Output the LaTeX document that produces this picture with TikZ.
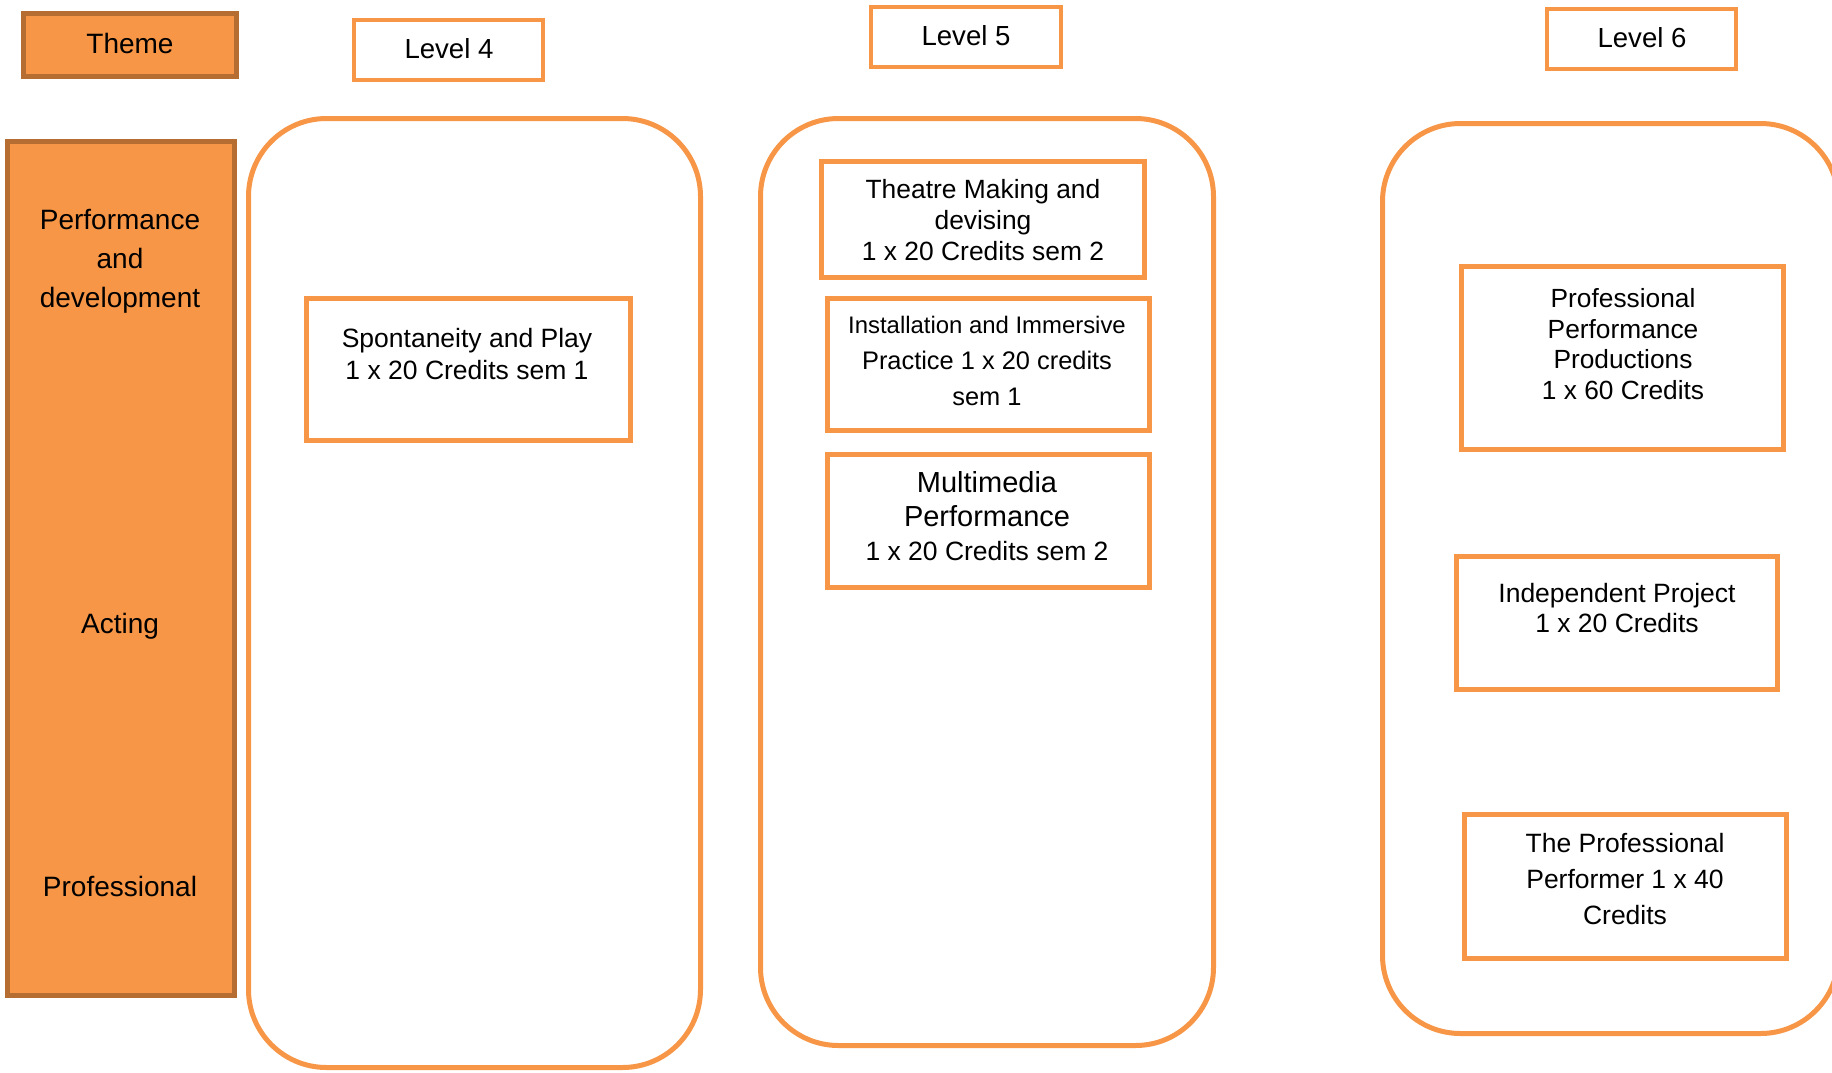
\documentclass[tikz,border=0pt]{standalone}
\usepackage{fontspec}
\setmainfont{Liberation Sans}
\definecolor{org}{HTML}{F79646}
\definecolor{brn}{HTML}{B66D31}
\begin{document}
\begin{tikzpicture}[x=1pt,y=-1pt,
  every node/.style={inner sep=0pt, outer sep=0pt},
  themebox/.style={draw=brn, fill=org, line width=5pt, rectangle},
  lvlbox/.style={draw=org, line width=4pt, fill=white, rectangle},
  modbox/.style={draw=org, line width=5pt, fill=white, rectangle},
  colbox/.style={draw=org, line width=5pt, rectangle, rounded corners=78pt},
  txt/.style={align=center, text=black, font=\fontsize{26.5}{31.5}\selectfont},
  bigtxt/.style={align=center, text=black, font=\fontsize{28}{39}\selectfont}]
\useasboundingbox (0,0) rectangle (1832,1072);
% theme column
\node[themebox, minimum width=213pt, minimum height=63pt] (theme) at (130,45) {};
\node[themebox, minimum width=227pt, minimum height=854pt] (themecol) at (121,568.5) {};
% columns
\node[colbox, minimum width=452pt, minimum height=949pt] (col4) at (474.5,593) {};
\node[colbox, minimum width=453pt, minimum height=927pt] (col5) at (987,582) {};
\node[colbox, minimum width=456pt, minimum height=910pt] (col6) at (1610.5,578.5) {};
% level boxes
\node[lvlbox, minimum width=189pt, minimum height=60pt] (l4) at (448.5,50) {};
\node[lvlbox, minimum width=190pt, minimum height=60pt] (l5) at (966,37) {};
\node[lvlbox, minimum width=189pt, minimum height=60pt] (l6) at (1641.5,39) {};
% module boxes
\node[modbox, minimum width=324pt, minimum height=142pt] (spont) at (468.5,369.5) {};
\node[modbox, minimum width=323pt, minimum height=116pt] (theatre) at (983,219.5) {};
\node[modbox, minimum width=322pt, minimum height=132pt] (install) at (988.5,364.5) {};
\node[modbox, minimum width=322pt, minimum height=133pt] (multi) at (988.5,521) {};
\node[modbox, minimum width=322pt, minimum height=183pt] (ppp) at (1622.5,358) {};
\node[modbox, minimum width=321pt, minimum height=133pt] (indep) at (1617,623) {};
\node[modbox, minimum width=322pt, minimum height=144pt] (tpp) at (1625.5,886.5) {};
% texts
\node[bigtxt] (themet) at (130,43) {Theme};
\node[bigtxt] (perft) at (120,261.5) {Performance\\and\\development};
\node[bigtxt] (actt) at (120,626.5) {Acting};
\node[bigtxt] (proft) at (120,886.5) {Professional};
\node[txt, font=\fontsize{27.6}{32}\selectfont] (l4t) at (449,49) {Level 4};
\node[txt, font=\fontsize{27.6}{32}\selectfont] (l5t) at (966,36) {Level 5};
\node[txt, font=\fontsize{27.6}{32}\selectfont] (l6t) at (1642,38) {Level 6};
\node[txt] (spontt) at (467,354) {Spontaneity and Play\\1 x 20 Credits sem 1};
\node[txt, font=\fontsize{26.4}{31}\selectfont] (theatret) at (983,220) {Theatre Making and\\devising\\1 x 20 Credits sem 2};
\node[txt, font=\fontsize{25.4}{35.6}\selectfont] (installt) at (987,361) {{\fontsize{23.9}{35.6}\selectfont Installation and Immersive}\\Practice 1 x 20 credits\\sem 1};
\node[txt, font=\fontsize{29}{34}\selectfont] (multit) at (987,516) {Multimedia\\Performance\\{\fontsize{26.5}{33}\selectfont 1 x 20 Credits sem 2}};
\node[txt, font=\fontsize{26.3}{30.7}\selectfont] (pppt) at (1623,344) {Professional\\Performance\\Productions\\1 x 60 Credits};
\node[txt, font=\fontsize{26.5}{30}\selectfont] (indept) at (1617,608) {Independent Project\\1 x 20 Credits};
\node[txt, font=\fontsize{26.5}{36}\selectfont] (tppt) at (1625,879) {The Professional\\Performer 1 x 40\\Credits};
\end{tikzpicture}
\end{document}
